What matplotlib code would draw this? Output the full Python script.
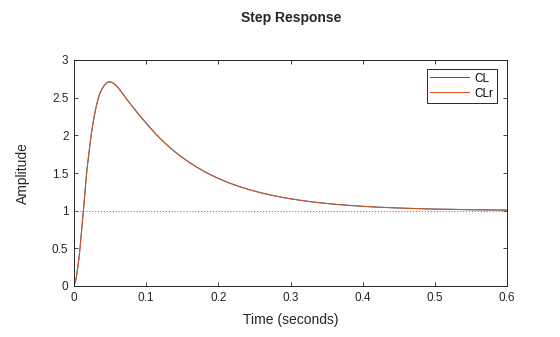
import numpy as np
import matplotlib
matplotlib.use("Agg")
import matplotlib.pyplot as plt

plt.rcParams["font.family"] = ["Liberation Sans", "DejaVu Sans"]

# step response (time in seconds, amplitude)
t = [0, 0.002, 0.004, 0.006, 0.008, 0.0105, 0.013, 0.0155, 0.018, 0.021, 0.024,
     0.027, 0.030, 0.033, 0.036, 0.039, 0.042, 0.045, 0.048, 0.051, 0.055,
     0.060, 0.065, 0.070, 0.075, 0.082, 0.090, 0.097, 0.105, 0.112, 0.120,
     0.130, 0.140, 0.150, 0.160, 0.170, 0.180, 0.190, 0.200, 0.215, 0.230,
     0.245, 0.260, 0.275, 0.290, 0.305, 0.320, 0.335, 0.350, 0.365, 0.380,
     0.400, 0.420, 0.440, 0.460, 0.480, 0.500, 0.525, 0.550, 0.575, 0.600]
cl = [0, 0.06, 0.16, 0.30, 0.47, 0.73, 1.0, 1.28, 1.55, 1.79, 2.02,
      2.20, 2.35, 2.47, 2.56, 2.62, 2.665, 2.695, 2.71, 2.708, 2.69,
      2.645, 2.585, 2.52, 2.455, 2.37, 2.275, 2.195, 2.107, 2.032, 1.953,
      1.862, 1.780, 1.706, 1.639, 1.578, 1.523, 1.473, 1.428, 1.368, 1.317,
      1.273, 1.235, 1.202, 1.174, 1.150, 1.129, 1.111, 1.096, 1.082, 1.071,
      1.058, 1.047, 1.039, 1.032, 1.026, 1.021, 1.017, 1.013, 1.010, 1.008]
clr = list(cl)

xticks = [0, 0.1, 0.2, 0.3, 0.4, 0.5, 0.6]
xticklabels = ["0", "0.1", "0.2", "0.3", "0.4", "0.5", "0.6"]
yticks = [0, 0.5, 1, 1.5, 2, 2.5, 3]
yticklabels = ["0", "0.5", "1", "1.5", "2", "2.5", "3"]

fig = plt.figure(figsize=(5.6, 3.37), dpi=100)
ax = fig.add_axes([74 / 560, 1 - 286 / 337, (507 - 74) / 560, (286 - 60) / 337])

ax.plot([0, 0.6], [1, 1], color="#7f7f7f", linestyle=":", linewidth=0.8)
ax.plot(t, cl, color="#0072BD", linewidth=0.75, label="CL")
ax.plot(t, clr, color="#D95319", linewidth=0.75, label="CLr")

ax.set_xlim(0, 0.6)
ax.set_ylim(0, 3)
ax.set_xticks(xticks)
ax.set_xticklabels(xticklabels)
ax.set_yticks(yticks)
ax.set_yticklabels(yticklabels)
ax.tick_params(direction="in", length=3, width=0.6, labelsize=8.5,
               top=True, right=True, colors="#262626", pad=4)
for s in ax.spines.values():
    s.set_linewidth(0.7)
    s.set_color("#262626")

ax.set_xlabel("Time (seconds)", fontsize=10, color="#262626", labelpad=7)
ax.set_ylabel("Amplitude", fontsize=10, color="#262626", labelpad=16)
fig.text(0.52, 1 - 18 / 337, "Step Response", ha="center", va="center",
         fontsize=10, fontweight="bold", color="#262626")

leg = ax.legend(loc="upper right", bbox_to_anchor=(0.977, 0.960),
                fontsize=8.5, frameon=True, fancybox=False, framealpha=1,
                handlelength=3.3, borderaxespad=0, borderpad=0.3,
                labelspacing=0.25, handletextpad=0.45)
leg.get_frame().set_edgecolor("#262626")
leg.get_frame().set_linewidth(0.7)

fig.savefig("out.png", dpi=100)
